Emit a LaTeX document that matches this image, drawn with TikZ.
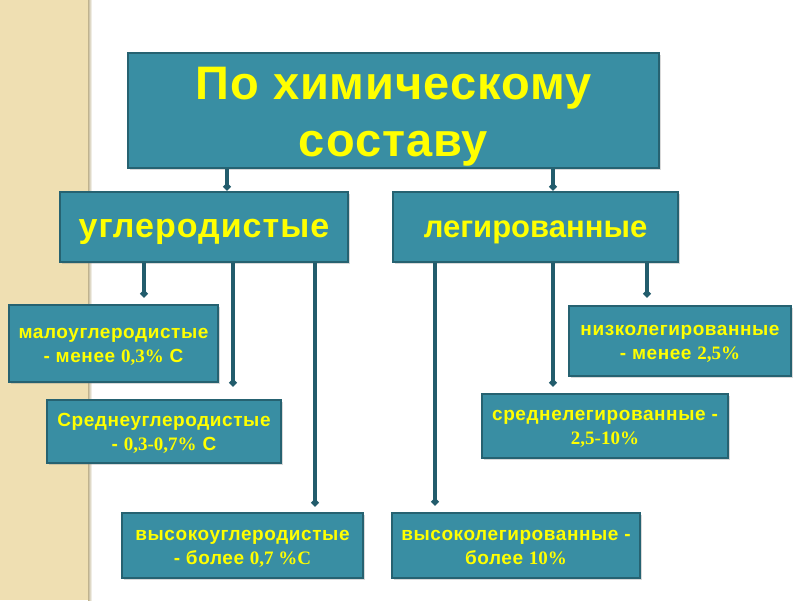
\documentclass[tikz,border=0pt]{standalone}
\usepackage{fontspec}
\setmainfont{Liberation Sans}
\newfontfamily\tnr{Liberation Serif}
\usetikzlibrary{arrows.meta,shadows}
\definecolor{boxteal}{RGB}{57, 142, 163}
\definecolor{boxedge}{RGB}{38, 98, 113}
\definecolor{linkteal}{RGB}{34, 92, 108}
\definecolor{txtyellow}{RGB}{255, 255, 0}
\definecolor{stripbeige}{RGB}{239, 223, 178}

\begin{document}
\begin{tikzpicture}[x=1pt, y=-1pt,
    box/.style={draw=boxedge, line width=1.5pt, fill=boxteal, text=txtyellow,
      align=center, inner sep=0pt, text depth=0pt,
      drop shadow={shadow xshift=1.5pt, shadow yshift=-1.5pt, opacity=0.3}},
    small/.style={box, text height=37pt,
      font=\bfseries\fontsize{19}{24}\selectfont\addfontfeature{LetterSpace=3}},
    link/.style={draw=linkteal, line width=3.5pt, -{Circle[length=7pt,width=7pt]}}]
        \useasboundingbox (0,0) rectangle (800,600);
        \fill[stripbeige] (0,0) rectangle (88,600);
        \shade[left color=stripbeige!80!black, right color=white] (88,0) rectangle (92,600);

        \node[box, minimum width=531pt, minimum height=115pt, text height=92pt,
          font=\bfseries\fontsize{47}{57}\selectfont\addfontfeature{LetterSpace=2}] (sostav) at (393.5,110.5) {По химическому\\составу};
        \node[box, minimum width=288pt, minimum height=70pt, text height=21pt,
          font=\bfseries\fontsize{34}{40}\selectfont\addfontfeature{LetterSpace=3}] (ugl) at (204,227) {углеродистые};
        \node[box, minimum width=285pt, minimum height=70pt, text height=21pt,
          font=\bfseries\fontsize{31}{40}\selectfont] (leg) at (535.5,227) {легированные};

        \node[small, minimum width=209pt, minimum height=77pt] (malo) at (113.5,343.5)
          {малоуглеродистые\\- менее {\tnr 0,3\%} С};
        \node[small, minimum width=234pt, minimum height=63pt] (sredu) at (164,431.5)
          {Среднеуглеродистые\\- {\tnr 0,3-0,7\%} С};
        \node[small, minimum width=241pt, minimum height=65pt] (vysu) at (242.5,545.5)
          {высокоуглеродистые\\- более {\tnr 0,7 \%C}};
        \node[small, minimum width=222pt, minimum height=70pt] (nizl) at (680,341)
          {низколегированные\\- менее {\tnr 2,5\%}};
        \node[small, minimum width=246pt, minimum height=64pt] (sredl) at (605,426)
          {среднелегированные -\\{\tnr 2,5-10\%}};
        \node[small, minimum width=248pt, minimum height=65pt] (vysl) at (516,545.5)
          {высоколегированные -\\более {\tnr 10\%}};

        \draw[link, shorten >=1pt] ([xshift=-166.5pt]sostav.south) -- ([xshift=23pt]ugl.north);
        \draw[link, shorten >=1pt] ([xshift=159.5pt]sostav.south) -- ([xshift=17.5pt]leg.north);
        \draw[link, shorten >=7pt] ([xshift=-60pt]ugl.south) -- ([xshift=30.5pt]malo.north);
        \draw[link, shorten >=13pt] ([xshift=29pt]ugl.south) -- ([xshift=69pt]sredu.north);
        \draw[link, shorten >=6pt] ([xshift=111pt]ugl.south) -- ([xshift=72.5pt]vysu.north);
        \draw[link, shorten >=7pt] ([xshift=-100.5pt]leg.south) -- ([xshift=-81pt]vysl.north);
        \draw[link, shorten >=7pt] ([xshift=17.5pt]leg.south) -- ([xshift=-52pt]sredl.north);
        \draw[link, shorten >=8pt] ([xshift=111.5pt]leg.south) -- ([xshift=-33pt]nizl.north);
      \end{tikzpicture}
\end{document}
